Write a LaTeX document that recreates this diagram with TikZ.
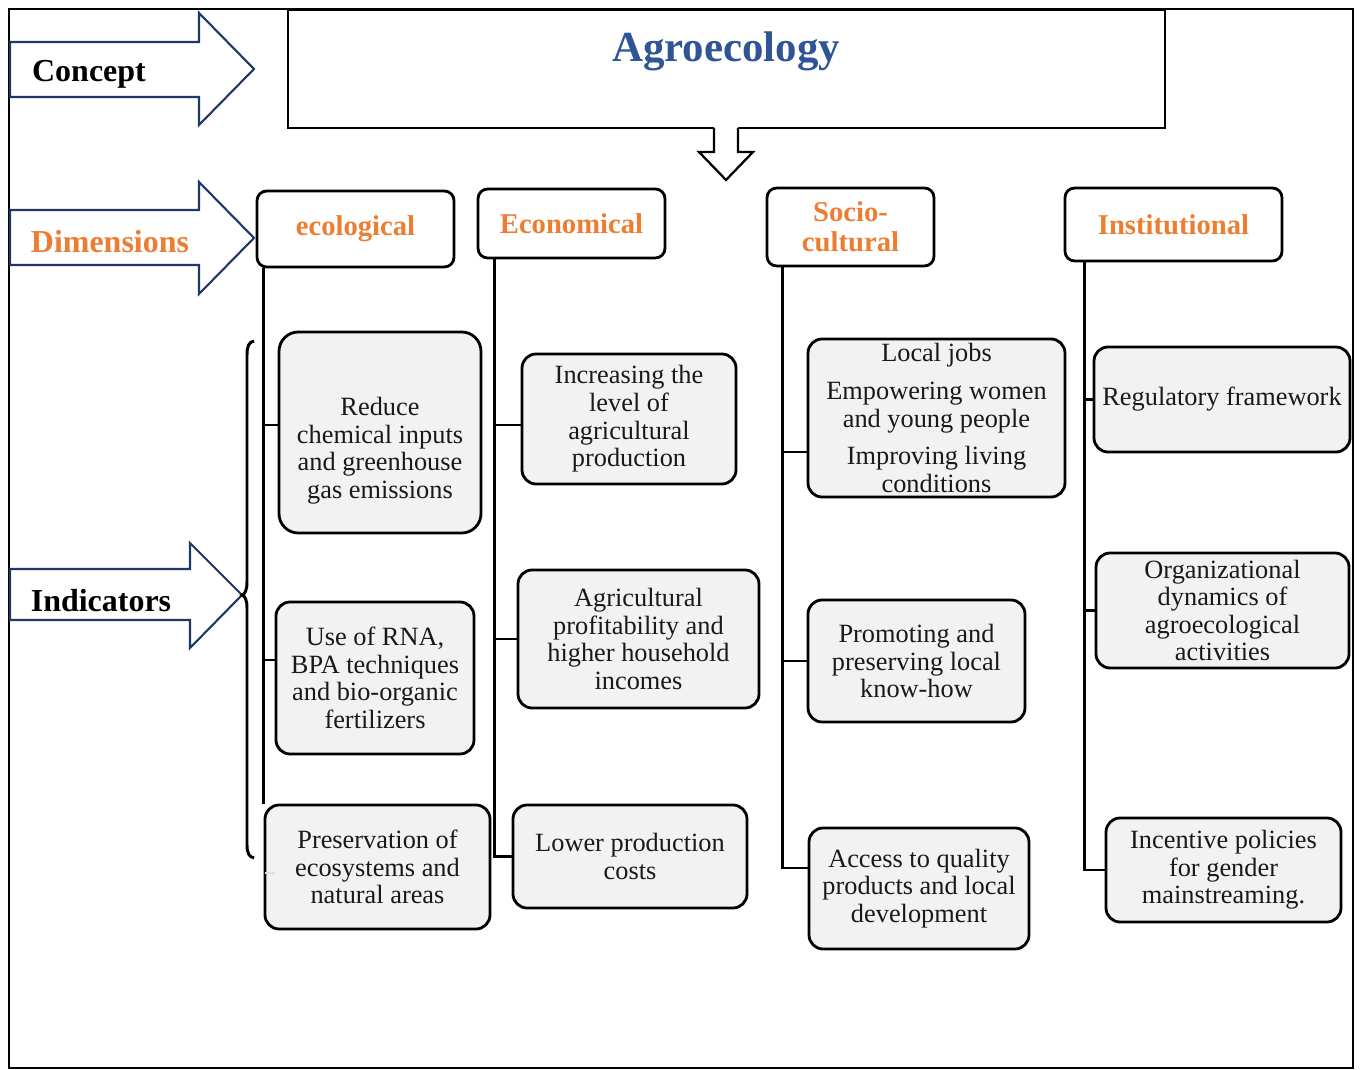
\documentclass[tikz,border=0pt]{standalone}
\usepackage{fontspec}
\setmainfont{Liberation Serif}
\usetikzlibrary{calc}
\definecolor{navy}{HTML}{1F3864}
\definecolor{orng}{HTML}{ED7D31}
\definecolor{titleblue}{HTML}{2F5597}
\definecolor{boxgray}{HTML}{F2F2F2}
\newcommand\bx[7]{%
 \pgfmathsetmacro\bxcx{(#2+#4)/2}%
 \pgfmathsetmacro\bxcy{(#3+#5)/2}%
 \pgfmathsetmacro\bxw{(#4-#2)*0.02}%
 \pgfmathsetmacro\bxh{(#5-#3)*0.02}%
 \node[#6,minimum width=\bxw cm,minimum height=\bxh cm] (#1) at (\bxcx,\bxcy) {#7};}
\begin{document}
\begin{tikzpicture}[x={(0.02cm,0)},y={(0,-0.02cm)},
  dim/.style={draw, line width=1.6pt, rounded corners=5.5pt, fill=white, inner sep=0pt, align=center,
    font=\fontsize{16.3}{17.2}\selectfont\bfseries, text=orng},
  ind/.style={draw, line width=1.6pt, rounded corners=8pt, fill=boxgray, inner sep=0pt, align=center,
    font=\fontsize{15}{15.7}\selectfont, text=black!90},
  trunk/.style={line width=1.4pt},
  bigarrow/.style={draw=navy, line width=1.2pt, fill=white, line join=miter},
  lbl/.style={font=\fontsize{18.2}{21}\selectfont\bfseries, inner sep=0pt}]
\useasboundingbox (0,0) rectangle (1362,1070);
% outer frame
\draw[line width=1.1pt] (9,9) rectangle (1353,1068);

% concept box and title
\bx{agro}{288}{10}{1165}{128}{draw, line width=1.3pt, inner sep=0pt}{}
\node[font=\fontsize{24.4}{28}\selectfont\bfseries, text=titleblue, inner sep=0pt] (title) at (726,51) {Agroecology};
% down arrow
\fill[white] (714,126) -- (714,152) -- (699,152) -- (726,180) -- (753,152) -- (738,152) -- (738,126) -- cycle;
\draw[line width=1.3pt, line join=miter] (714,128) -- (714,152) -- (699,152) -- (726,180) -- (753,152) -- (738,152) -- (738,128);

% left arrows
\draw[bigarrow] (10,42) -- (199,42) -- (199,13) -- (254,69) -- (199,125) -- (199,97) -- (10,97) -- cycle;
\node[lbl] (lconcept) at (89,74) {Concept};
\draw[bigarrow] (10,210) -- (199,210) -- (199,182) -- (254,238) -- (199,294) -- (199,265) -- (10,265) -- cycle;
\node[lbl, text=orng] (ldim) at (110,242) {Dimensions};
\draw[bigarrow] (10,569) -- (190,569) -- (190,543) -- (242,595) -- (190,648) -- (190,620) -- (10,620) -- cycle;
\node[lbl] (lind) at (101,601) {Indicators};

% brace
\draw[line width=1.7pt] (254,341) .. controls (249,342) and (247,346) .. (247,355) -- (247,582)
  .. controls (247,590) and (245,594) .. (242,595) .. controls (245,596) and (247,600) .. (247,608)
  -- (247,845) .. controls (247,853) and (249,857) .. (254,858);

% dimension boxes
\bx{eco}{257}{191}{454}{267}{dim}{ecological}
\bx{econ}{478}{189}{665}{258}{dim}{Economical}
\bx{soc}{767}{188}{934}{266}{dim}{Socio-\\cultural}
\bx{inst}{1065}{188}{1282}{261}{dim}{Institutional}

% indicator boxes
\bx{e1}{279}{332}{481}{533}{ind, rounded corners=11pt}{\raisebox{-0.38cm}[\height][\depth]{\begin{tabular}{@{}c@{}}Reduce\\chemical inputs\\and greenhouse\\gas emissions\end{tabular}}}
\bx{e2}{276}{602}{474}{754}{ind}{Use of RNA,\\BPA techniques\\and bio-organic\\fertilizers}
\bx{e3}{265}{805}{490}{929}{ind}{Preservation of\\ecosystems and\\natural areas}

\bx{c1}{522}{354}{736}{484}{ind}{Increasing the\\level of\\agricultural\\production}
\bx{c2}{518}{570}{759}{708}{ind}{Agricultural\\profitability and\\higher household\\incomes}
\bx{c3}{513}{805}{747}{908}{ind}{Lower production\\costs}

\bx{s1}{808}{339}{1065}{497}{ind}{Local jobs\\[0.2cm]Empowering women\\and young people\\[0.2cm]Improving living\\conditions}
\bx{s2}{808}{600}{1025}{722}{ind}{Promoting and\\preserving local\\know-how}
\bx{s3}{809}{828}{1029}{949}{ind}{Access to quality\\products and local\\development}

\bx{i1}{1094}{347}{1350}{452}{ind}{Regulatory framework}
\bx{i2}{1096}{553}{1349}{668}{ind}{Organizational\\dynamics of\\agroecological\\activities}
\bx{i3}{1106}{818}{1341}{922}{ind}{Incentive policies\\for gender\\mainstreaming.}

% trunks and connectors
\coordinate (ecoT) at ($(eco.south west)+(8,0)$);
\draw[trunk] (ecoT) -- (ecoT |- e3.north);
\draw[trunk] ($(e1.west)+(0,-7.5)$) -- ($(e1.west -| ecoT)+(0,-7.5)$);
\draw[trunk] ($(e2.west)+(0,-18)$) -- ($(e2.west -| ecoT)+(0,-18)$);
\draw[line width=1.2pt, gray!25] ($(e3.west)+(1,6)$) -- ++(10,0);

\coordinate (econT) at ($(econ.south west)+(18,0)$);
\draw[trunk] (econT) |- (c3.west);
\draw[trunk] ($(c1.west)+(0,6)$) -- ($(c1.west -| econT)+(0,6)$);
\draw[trunk] (c2.west) -- (c2.west -| econT);

\coordinate (socT) at ($(soc.south west)+(17,0)$);
\draw[trunk] (socT) |- ($(s3.west)+(0,-20.5)$);
\draw[trunk] ($(s1.west)+(0,34)$) -- ($(s1.west -| socT)+(0,34)$);
\draw[trunk] (s2.west) -- (s2.west -| socT);

\coordinate (instT) at ($(inst.south west)+(21,0)$);
\draw[trunk] (instT) |- (i3.west);
\draw[trunk] (i1.west) -- (i1.west -| instT);
\draw[trunk] (i2.west) -- (i2.west -| instT);
\end{tikzpicture}
\end{document}
